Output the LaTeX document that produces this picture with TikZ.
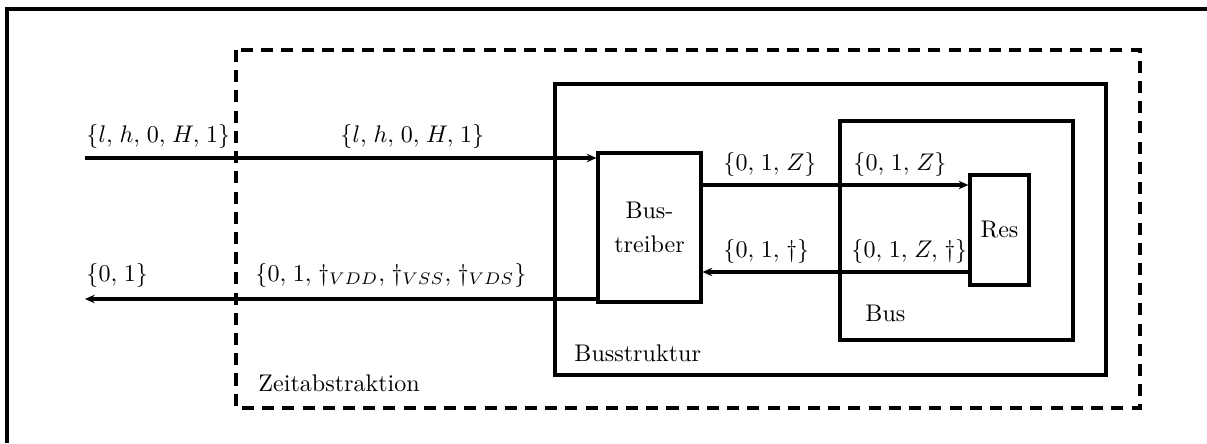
\documentclass[tikz,border=0pt]{standalone}
\usepackage{amsmath}
\usepackage{tikz}
\usetikzlibrary{arrows.meta,positioning}
\newcommand{\kom}{,\mskip2mu}

\begin{document}
\begin{tikzpicture}[x=0.0146cm,y=-0.0146cm,
    frame/.style={line width=1.4pt},
    dashframe/.style={line width=1.4pt,dash pattern=on 5pt off 3.4pt},
    block/.style={draw,line width=1.4pt,inner sep=0pt},
    sig/.style={line width=1.4pt,-{Stealth[length=4pt,width=3.5pt]}},
    lab/.style={anchor=base west,inner sep=0pt}]
\useasboundingbox (0,0) rectangle (1207,443);
% outer frame, cut at right and bottom
\draw[frame] (7,443) -- (7,9) -- (1207,9);
% nested abstraction levels
\draw[dashframe] (236,50) rectangle (1140,408);
\draw[frame] (555,84) rectangle (1106,375);
\draw[frame] (840,121) rectangle (1073,340);
\node[lab] (zeit) at (258,391) {Zeitabstraktion};
\node[lab] (struktur) at (574,361) {Busstruktur};
\node[lab] (bus) at (865,321) {Bus};
% blocks
\node[block,minimum width=1.50cm,minimum height=2.18cm,align=center] (treiber) at (649.5,227.5) {Bus-\\[2pt]treiber};
\node[block,minimum width=0.86cm,minimum height=1.61cm] (res) at (999.5,230) {Res};
% signal levels
\coordinate (ein) at (85,158);
\coordinate (aus) at (85,299);
\coordinate (hin) at (0,185);
\coordinate (rueck) at (0,272);
\draw[sig] (ein) -- (ein -| treiber.west);
\draw[sig] (aus -| treiber.west) -- (aus);
\draw[sig] (hin -| treiber.east) -- (hin -| res.west);
\draw[sig] (rueck -| res.west) -- (rueck -| treiber.east);
% value sets
\node[lab] (w1) at (86,142) {$\{l\kom h\kom 0\kom H\kom 1\}$};
\node[lab] (w2) at (340,142) {$\{l\kom h\kom 0\kom H\kom 1\}$};
\node[lab] (w3) at (86,281) {$\{0\kom 1\}$};
\node[lab] (w4) at (255,281) {$\{0\kom 1\kom \dagger_{VDD}\kom \dagger_{VSS}\kom \dagger_{VDS}\}$};
\node[lab] (w5) at (723,170) {$\{0\kom 1\kom Z\}$};
\node[lab] (w6) at (853,170) {$\{0\kom 1\kom Z\}$};
\node[lab] (w7) at (723,257) {$\{0\kom 1\kom \dagger\}$};
\node[lab] (w8) at (851,257) {$\{0\kom 1\kom Z\kom \dagger\}$};
\end{tikzpicture}
\end{document}
